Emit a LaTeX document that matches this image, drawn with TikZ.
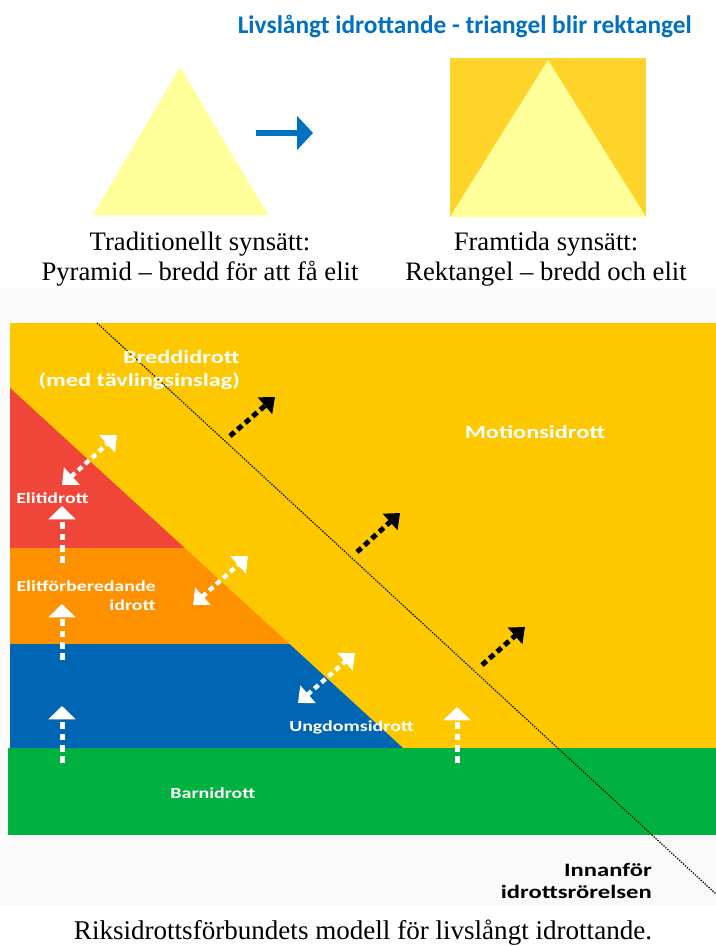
\documentclass[tikz,border=0pt]{standalone}
\usepackage{fontspec}
\setmainfont{Liberation Serif}
\newfontfamily\calibri{Carlito}
\newfontfamily\calibriwide[FakeStretch=1.3]{Carlito}
\usepackage{tikz}
\usetikzlibrary{arrows.meta}

\definecolor{titleblue}{RGB}{0,112,192}
\definecolor{paleyellow}{RGB}{255,255,153}
\definecolor{goldbox}{RGB}{255,212,42}
\definecolor{breddyellow}{RGB}{253,200,0}
\definecolor{elitred}{RGB}{240,70,58}
\definecolor{prepoarnge}{RGB}{253,145,0}
\definecolor{youthblue}{RGB}{0,102,179}
\definecolor{kidgreen}{RGB}{0,177,64}
\definecolor{photogray}{RGB}{250,250,250}

\begin{document}
\begin{tikzpicture}[x=0.75pt,y=0.75pt,yscale=-1,xscale=1,
    lbl/.style={inner sep=0.75pt, text=white, font=\calibriwide\bfseries\fontsize{11.5}{14}\selectfont},
    biglbl/.style={lbl, font=\calibriwide\bfseries\fontsize{14}{17}\selectfont},
    caption/.style={inner sep=0.75pt, align=center, font=\fontsize{20}{22}\selectfont},
    uparrow/.style={draw=white, line width=3.75pt, dash pattern=on 5pt off 3.5pt, -{Triangle[width=20pt,length=10pt]}},
    twoway/.style={draw=white, line width=3.3pt, dash pattern=on 4pt off 3pt, {Triangle[width=17pt,length=10pt]}-{Triangle[width=17pt,length=10pt]}},
    outarrow/.style={draw=black, line width=3.75pt, dash pattern=on 4.5pt off 3pt, -{Triangle[width=16pt,length=10pt]}}
  ]
    \fill[white] (0,0) rectangle (716,946);
    \useasboundingbox (0,0) rectangle (716,946);

    % Title
    \draw (693,26) node [anchor=east][inner sep=0.75pt] [font=\calibri\bfseries\fontsize{19}{22}\selectfont, text=titleblue] (title) {Livslångt idrottande - triangel blir rektangel};

    %Triangle left
    \fill [paleyellow] (180,67) -- (268,215) -- (93,215) -- cycle;
    %Rectangle and triangle right
    \fill [goldbox] (450,58) rectangle (646,217);
    \fill [paleyellow] (548,60) -- (646,217) -- (450,217) -- cycle;
    %Blue arrow
    \coordinate (blueS) at (256,133);
    \coordinate (blueE) at (313,133);
    \draw [titleblue, line width=4.5pt, -{Triangle[width=25pt,length=12pt]}] (blueS) -- (blueE);

    % Text Node
    \draw (200,259) node [caption] (oldview) {Traditionellt synsätt:\\Pyramid – bredd för att få elit};
    % Text Node
    \draw (546,259) node [caption] (newview) {Framtida synsätt:\\Rektangel – bredd och elit};

    %Photo background
    \fill [photogray] (0,288) rectangle (716,905);

    %Bands
    \fill [breddyellow] (10,323) rectangle (716,748);
    \fill [kidgreen] (8,748) rectangle (716,835);
    \fill [elitred] (10,388) -- (184.7,548) -- (10,548) -- cycle;
    \fill [prepoarnge] (10,548) -- (184.7,548) -- (289.5,644) -- (10,644) -- cycle;
    \fill [youthblue] (10,644) -- (289.5,644) -- (403,748) -- (10,748) -- cycle;

    %Dotted boundary line
    \coordinate (lineTop) at (97,323);
    \coordinate (lineEnd) at (716,894);
    \draw [line width=0.9pt, dash pattern=on 1pt off 1pt] (lineTop) -- (lineEnd);

    % Text Node
    \draw (241,370) node [biglbl, anchor=east, align=right] (bredd) {Breddidrott\\(med tävlingsinslag)};
    % Text Node
    \draw (535,432) node [biglbl] (motion) {Motionsidrott};
    % Text Node
    \draw (15,498) node [lbl, anchor=west] (elit) {Elitidrott};
    % Text Node
    \draw (157,596) node [lbl, anchor=east, align=right] (elitprep) {Elitförberedande\\idrott};
    % Text Node
    \draw (288,727) node [lbl, anchor=west] (youth) {Ungdomsidrott};
    % Text Node
    \draw (213,793) node [lbl] (kids) {Barnidrott};
    % Text Node
    \draw (653,881) node [anchor=east, align=right, inner sep=0.75pt, font=\calibriwide\bfseries\fontsize{14.2}{16}\selectfont] (inside) {Innanför\\idrottsrörelsen};

    %Up arrows
    \coordinate (up1s) at (62,563);  \coordinate (up1e) at (62,506);
    \coordinate (up2s) at (62,660);  \coordinate (up2e) at (62,604);
    \coordinate (up3s) at (62,763);  \coordinate (up3e) at (62,706);
    \coordinate (up4s) at (457,763); \coordinate (up4e) at (457,707);
    \draw [uparrow] (up1s) -- (up1e);
    \draw [uparrow] (up2s) -- (up2e);
    \draw [uparrow] (up3s) -- (up3e);
    \draw [uparrow] (up4s) -- (up4e);

    %Two-way arrows
    \coordinate (twA1) at (62,485);  \coordinate (twA2) at (117,435);
    \coordinate (twB1) at (193,605); \coordinate (twB2) at (248,556);
    \coordinate (twC1) at (298,703); \coordinate (twC2) at (355,653);
    \draw [twoway] (twA1) -- (twA2);
    \draw [twoway] (twB1) -- (twB2);
    \draw [twoway] (twC1) -- (twC2);

    %Outward arrows
    \coordinate (out1s) at (230,436); \coordinate (out1e) at (275,397);
    \coordinate (out2s) at (357,552); \coordinate (out2e) at (400,513);
    \coordinate (out3s) at (482,665); \coordinate (out3e) at (525,627);
    \draw [outarrow] (out1s) -- (out1e);
    \draw [outarrow] (out2s) -- (out2e);
    \draw [outarrow] (out3s) -- (out3e);

    % Text Node
    \draw (363,933) node [inner sep=0.75pt, font=\fontsize{20.3}{22}\selectfont] (modelcap) {Riksidrottsförbundets modell för livslångt idrottande.};

\end{tikzpicture}
\end{document}
